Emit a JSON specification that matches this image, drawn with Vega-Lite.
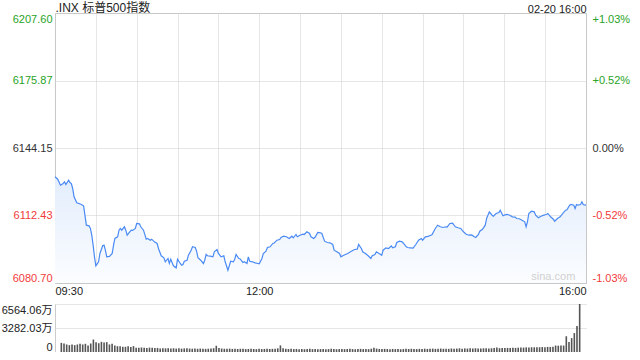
{
  "$schema": "https://vega.github.io/schema/vega-lite/v6.json",
  "background": "white",
  "padding": {"left": 1, "top": 0, "right": 0, "bottom": 0},
  "spacing": 7,
  "config": {
    "font": "Liberation Sans, Noto Sans CJK SC",
    "view": {"stroke": null},
    "axis": {"labelFont": "Liberation Sans, Noto Sans CJK SC", "labelFontSize": 11, "ticks": false, "title": null, "domain": false, "labelOverlap": false}
  },
  "datasets": {
    "price": [
      {"m":0,"p":6130.61},{"m":2,"p":6129.49},{"m":4,"p":6126.67},{"m":6,"p":6127.47},{"m":7,"p":6128.27},{"m":8,"p":6127.00},{"m":10,"p":6129.02},{"m":11,"p":6127.94},{"m":12,"p":6127.47},{"m":13,"p":6125.12},{"m":14,"p":6121.22},{"m":16,"p":6118.39},{"m":19,"p":6117.74},{"m":21,"p":6116.98},{"m":22,"p":6112.57},{"m":23,"p":6107.87},{"m":25,"p":6107.58},{"m":26,"p":6106.32},{"m":27,"p":6103.17},{"m":28,"p":6098.47},{"m":29,"p":6093.01},{"m":30,"p":6088.78},{"m":32,"p":6090.66},{"m":33,"p":6094.57},{"m":35,"p":6098.18},{"m":36,"p":6098.47},{"m":37,"p":6096.12},{"m":38,"p":6093.01},{"m":40,"p":6093.20},{"m":42,"p":6094.57},{"m":43,"p":6098.47},{"m":44,"p":6101.62},{"m":46,"p":6102.42},{"m":47,"p":6105.52},{"m":48,"p":6106.32},{"m":49,"p":6105.52},{"m":51,"p":6107.12},{"m":52,"p":6105.52},{"m":53,"p":6103.17},{"m":54,"p":6103.97},{"m":56,"p":6105.52},{"m":57,"p":6105.40},{"m":59,"p":6106.32},{"m":60,"p":6108.67},{"m":62,"p":6108.50},{"m":63,"p":6107.12},{"m":65,"p":6105.52},{"m":67,"p":6101.29},{"m":68,"p":6101.62},{"m":70,"p":6100.82},{"m":71,"p":6101.29},{"m":73,"p":6100.06},{"m":75,"p":6099.27},{"m":76,"p":6096.92},{"m":78,"p":6093.49},{"m":80,"p":6092.55},{"m":81,"p":6090.66},{"m":83,"p":6092.22},{"m":84,"p":6089.87},{"m":85,"p":6091.89},{"m":87,"p":6088.78},{"m":89,"p":6087.84},{"m":90,"p":6091.89},{"m":92,"p":6089.87},{"m":93,"p":6089.07},{"m":94,"p":6089.40},{"m":95,"p":6090.94},{"m":97,"p":6091.42},{"m":98,"p":6093.77},{"m":100,"p":6096.12},{"m":101,"p":6097.72},{"m":103,"p":6097.39},{"m":104,"p":6095.65},{"m":105,"p":6092.55},{"m":107,"p":6091.42},{"m":109,"p":6089.87},{"m":110,"p":6091.42},{"m":111,"p":6094.10},{"m":112,"p":6093.49},{"m":114,"p":6093.30},{"m":116,"p":6093.01},{"m":117,"p":6095.37},{"m":119,"p":6096.45},{"m":120,"p":6094.57},{"m":122,"p":6093.01},{"m":124,"p":6093.49},{"m":125,"p":6090.66},{"m":127,"p":6086.72},{"m":129,"p":6090.94},{"m":131,"p":6090.66},{"m":132,"p":6091.89},{"m":133,"p":6094.10},{"m":135,"p":6092.22},{"m":136,"p":6092.00},{"m":138,"p":6090.34},{"m":139,"p":6090.66},{"m":141,"p":6089.87},{"m":142,"p":6093.01},{"m":143,"p":6090.94},{"m":145,"p":6090.66},{"m":147,"p":6090.19},{"m":149,"p":6089.87},{"m":150,"p":6089.70},{"m":152,"p":6092.22},{"m":153,"p":6094.57},{"m":155,"p":6095.65},{"m":156,"p":6097.39},{"m":158,"p":6097.72},{"m":160,"p":6099.27},{"m":161,"p":6099.50},{"m":163,"p":6100.82},{"m":165,"p":6101.15},{"m":166,"p":6102.09},{"m":168,"p":6102.70},{"m":170,"p":6102.42},{"m":172,"p":6101.62},{"m":174,"p":6102.70},{"m":175,"p":6101.94},{"m":177,"p":6103.50},{"m":178,"p":6102.42},{"m":180,"p":6103.17},{"m":182,"p":6103.64},{"m":183,"p":6103.50},{"m":185,"p":6104.77},{"m":187,"p":6103.97},{"m":188,"p":6102.42},{"m":190,"p":6101.62},{"m":191,"p":6102.20},{"m":193,"p":6104.43},{"m":195,"p":6104.29},{"m":196,"p":6103.97},{"m":198,"p":6100.35},{"m":200,"p":6099.73},{"m":202,"p":6099.60},{"m":204,"p":6098.80},{"m":205,"p":6096.12},{"m":207,"p":6095.37},{"m":209,"p":6094.57},{"m":210,"p":6093.01},{"m":212,"p":6093.77},{"m":215,"p":6094.57},{"m":217,"p":6095.37},{"m":220,"p":6096.45},{"m":222,"p":6096.60},{"m":223,"p":6098.80},{"m":225,"p":6096.92},{"m":226,"p":6095.37},{"m":228,"p":6094.57},{"m":230,"p":6093.49},{"m":232,"p":6092.22},{"m":233,"p":6093.49},{"m":235,"p":6094.10},{"m":236,"p":6095.37},{"m":238,"p":6094.57},{"m":240,"p":6093.77},{"m":241,"p":6096.12},{"m":243,"p":6097.24},{"m":245,"p":6096.92},{"m":247,"p":6098.18},{"m":248,"p":6097.24},{"m":250,"p":6097.72},{"m":251,"p":6099.73},{"m":253,"p":6100.35},{"m":255,"p":6100.06},{"m":256,"p":6099.27},{"m":258,"p":6097.72},{"m":259,"p":6097.39},{"m":261,"p":6097.24},{"m":263,"p":6097.10},{"m":265,"p":6098.80},{"m":267,"p":6100.82},{"m":269,"p":6101.62},{"m":270,"p":6100.82},{"m":272,"p":6102.42},{"m":274,"p":6102.60},{"m":276,"p":6103.17},{"m":277,"p":6103.50},{"m":279,"p":6105.98},{"m":281,"p":6107.87},{"m":283,"p":6107.12},{"m":285,"p":6106.79},{"m":287,"p":6107.12},{"m":288,"p":6107.00},{"m":290,"p":6108.67},{"m":292,"p":6108.80},{"m":294,"p":6107.12},{"m":296,"p":6106.65},{"m":298,"p":6106.32},{"m":300,"p":6104.77},{"m":302,"p":6103.64},{"m":304,"p":6103.17},{"m":306,"p":6103.30},{"m":308,"p":6102.42},{"m":309,"p":6102.09},{"m":311,"p":6103.50},{"m":312,"p":6105.05},{"m":314,"p":6105.98},{"m":316,"p":6107.87},{"m":317,"p":6111.02},{"m":319,"p":6114.16},{"m":321,"p":6112.57},{"m":322,"p":6112.10},{"m":324,"p":6113.37},{"m":326,"p":6113.84},{"m":327,"p":6114.92},{"m":329,"p":6112.29},{"m":330,"p":6112.57},{"m":332,"p":6112.90},{"m":334,"p":6112.57},{"m":336,"p":6111.81},{"m":338,"p":6111.70},{"m":339,"p":6111.02},{"m":341,"p":6110.90},{"m":343,"p":6110.22},{"m":345,"p":6109.47},{"m":346,"p":6107.12},{"m":347,"p":6109.47},{"m":348,"p":6113.37},{"m":350,"p":6114.45},{"m":352,"p":6114.16},{"m":353,"p":6112.57},{"m":355,"p":6111.35},{"m":357,"p":6112.10},{"m":359,"p":6112.57},{"m":361,"p":6112.90},{"m":362,"p":6113.37},{"m":364,"p":6111.81},{"m":366,"p":6110.69},{"m":367,"p":6109.75},{"m":369,"p":6111.02},{"m":371,"p":6111.81},{"m":373,"p":6113.37},{"m":375,"p":6114.92},{"m":376,"p":6115.10},{"m":378,"p":6117.27},{"m":379,"p":6117.60},{"m":381,"p":6117.27},{"m":382,"p":6115.72},{"m":383,"p":6117.60},{"m":384,"p":6117.27},{"m":386,"p":6117.60},{"m":387,"p":6118.87},{"m":388,"p":6117.60},{"m":389,"p":6117.27},{"m":390,"p":6117.52}
    ],
    "vol": [
      {"m":1,"v":1250},{"m":3,"v":1160},{"m":5,"v":1030},{"m":7,"v":940},{"m":9,"v":1030},{"m":11,"v":940},{"m":13,"v":1030},{"m":15,"v":1120},{"m":17,"v":1030},{"m":19,"v":1120},
      {"m":21,"v":890},{"m":23,"v":1160},{"m":25,"v":1700},{"m":27,"v":1340},{"m":29,"v":1200},{"m":31,"v":1390},{"m":33,"v":1300},{"m":35,"v":1350},{"m":37,"v":1030},{"m":39,"v":1120},
      {"m":41,"v":890},{"m":43,"v":800},{"m":45,"v":800},{"m":47,"v":710},{"m":49,"v":710},{"m":51,"v":800},{"m":53,"v":670},{"m":55,"v":800},{"m":57,"v":580},{"m":59,"v":580},
      {"m":61,"v":620},{"m":63,"v":580},{"m":65,"v":560},{"m":67,"v":600},{"m":69,"v":580},{"m":71,"v":530},{"m":73,"v":560},{"m":75,"v":490},{"m":77,"v":520},{"m":79,"v":500},
      {"m":81,"v":520},{"m":83,"v":480},{"m":85,"v":510},{"m":87,"v":470},{"m":89,"v":500},{"m":91,"v":460},{"m":93,"v":490},{"m":95,"v":520},{"m":97,"v":470},{"m":99,"v":450},
      {"m":101,"v":480},{"m":103,"v":440},{"m":105,"v":470},{"m":107,"v":460},{"m":109,"v":430},{"m":111,"v":450},{"m":113,"v":480},{"m":115,"v":520},{"m":117,"v":850},{"m":119,"v":560},
      {"m":121,"v":470},{"m":123,"v":440},{"m":125,"v":430},{"m":127,"v":460},{"m":129,"v":420},{"m":131,"v":450},{"m":133,"v":410},{"m":135,"v":440},{"m":137,"v":430},{"m":139,"v":400},
      {"m":141,"v":420},{"m":143,"v":450},{"m":145,"v":410},{"m":147,"v":390},{"m":149,"v":430},{"m":151,"v":400},{"m":153,"v":420},{"m":155,"v":440},{"m":157,"v":410},{"m":159,"v":430},
      {"m":161,"v":460},{"m":163,"v":500},{"m":165,"v":900},{"m":167,"v":520},{"m":169,"v":440},{"m":171,"v":410},{"m":173,"v":430},{"m":175,"v":400},{"m":177,"v":420},{"m":179,"v":390},
      {"m":181,"v":410},{"m":183,"v":380},{"m":185,"v":400},{"m":187,"v":430},{"m":189,"v":390},{"m":191,"v":410},{"m":193,"v":380},{"m":195,"v":400},{"m":197,"v":420},{"m":199,"v":390},
      {"m":201,"v":400},{"m":203,"v":430},{"m":205,"v":410},{"m":207,"v":380},{"m":209,"v":400},{"m":211,"v":420},{"m":213,"v":390},{"m":215,"v":410},{"m":217,"v":440},{"m":219,"v":400},
      {"m":221,"v":380},{"m":223,"v":410},{"m":225,"v":430},{"m":227,"v":400},{"m":229,"v":420},{"m":231,"v":390},{"m":233,"v":450},{"m":235,"v":580},{"m":237,"v":470},{"m":239,"v":420},
      {"m":241,"v":400},{"m":243,"v":430},{"m":245,"v":410},{"m":247,"v":390},{"m":249,"v":420},{"m":251,"v":400},{"m":253,"v":410},{"m":255,"v":380},{"m":257,"v":400},{"m":259,"v":430},
      {"m":261,"v":410},{"m":263,"v":440},{"m":265,"v":420},{"m":267,"v":400},{"m":269,"v":430},{"m":271,"v":410},{"m":273,"v":450},{"m":275,"v":420},{"m":277,"v":440},{"m":279,"v":460},
      {"m":281,"v":430},{"m":283,"v":450},{"m":285,"v":470},{"m":287,"v":440},{"m":289,"v":460},{"m":291,"v":430},{"m":293,"v":480},{"m":295,"v":450},{"m":297,"v":470},{"m":299,"v":500},
      {"m":301,"v":460},{"m":303,"v":490},{"m":305,"v":470},{"m":307,"v":500},{"m":309,"v":480},{"m":311,"v":510},{"m":313,"v":490},{"m":315,"v":470},{"m":317,"v":500},{"m":319,"v":520},
      {"m":321,"v":490},{"m":323,"v":510},{"m":325,"v":540},{"m":327,"v":600},{"m":329,"v":520},{"m":331,"v":550},{"m":333,"v":530},{"m":335,"v":560},{"m":337,"v":540},{"m":339,"v":570},
      {"m":341,"v":560},{"m":343,"v":590},{"m":345,"v":620},{"m":347,"v":600},{"m":349,"v":640},{"m":351,"v":620},{"m":353,"v":650},{"m":355,"v":640},{"m":357,"v":660},{"m":359,"v":650},
      {"m":361,"v":680},{"m":363,"v":660},{"m":365,"v":700},{"m":367,"v":690},{"m":369,"v":720},{"m":371,"v":880},{"m":373,"v":860},{"m":375,"v":900},{"m":377,"v":880},{"m":379,"v":2150},
      {"m":381,"v":1380},{"m":383,"v":1900},{"m":385,"v":2590},{"m":387,"v":3570},{"m":389,"v":6564.06}
    ]
  },
  "vconcat": [
    {
      "width": 531,
      "height": 270,
      "view": {"stroke": "#c4c4c4"},
      "data": {"name": "price"},
      "resolve": {"axis": {"x": "independent", "y": "independent"}},
      "layer": [
        {
          "mark": {"type": "area", "color": {"gradient": "linear", "x1": 0, "y1": 0, "x2": 0, "y2": 1, "stops": [{"offset": 0, "color": "#e3edfc"}, {"offset": 1, "color": "#fbfdff"}]}},
          "encoding": {
            "x": {"field": "m", "type": "quantitative", "scale": {"domain": [0, 390], "nice": false, "zero": false},
              "axis": {"orient": "bottom", "values": [0,30,60,90,120,150,180,210,240,270,300,330,360,390], "grid": true, "gridColor": "#cccccc", "gridDash": [1,1], "labelFlush": true, "labelPadding": 2, "labelColor": "#222222",
                "labelExpr": "datum.value == 0 ? '09:30' : datum.value == 150 ? '12:00' : datum.value == 390 ? '16:00' : ''"}},
            "y": {"field": "p", "type": "quantitative", "scale": {"domain": [6080.70, 6207.60], "nice": false, "zero": false},
              "axis": {"orient": "left", "values": [6080.70, 6112.43, 6144.15, 6175.87, 6207.60], "format": ".2f", "grid": true, "gridColor": "#cccccc", "gridDash": [1,1], "labelFlush": true, "labelPadding": 3,
                "labelColor": {"condition": [{"test": "datum.value > 6144.2", "value": "#27a327"}, {"test": "datum.value < 6144.1", "value": "#f23a3a"}], "value": "#333333"}}},
            "y2": {"datum": 6080.70}
          }
        },
        {
          "mark": {"type": "line", "color": "#4a8af4", "strokeWidth": 1.2},
          "encoding": {
            "x": {"field": "m", "type": "quantitative",
              "axis": {"orient": "top", "values": [0, 390], "grid": false, "labelFlush": true, "labelPadding": -1, "labelColor": "#222222",
                "labelFontSize": {"condition": {"test": "datum.value == 0", "value": 12}, "value": 11},
                "labelExpr": "datum.value == 0 ? '.INX 标普500指数' : '02-20 16:00'"}},
            "y": {"field": "p", "type": "quantitative",
              "axis": {"orient": "right", "values": [6080.70, 6112.43, 6144.15, 6175.87, 6207.60], "grid": false, "labelFlush": true, "labelPadding": 6,
                "labelColor": {"condition": [{"test": "datum.value > 6144.2", "value": "#27a327"}, {"test": "datum.value < 6144.1", "value": "#f23a3a"}], "value": "#333333"},
                "labelExpr": "(datum.value > 6144.2 ? '+' : datum.value < 6144.1 ? '-' : '') + format(abs(datum.value / 6144.15 - 1) * 100, '.2f') + '%'"}}
          }
        },
        {
          "data": {"values": [{}]},
          "mark": {"type": "text", "text": "sina.com", "color": "#d0d0d0", "fontSize": 11, "align": "center", "baseline": "middle"},
          "encoding": {
            "x": {"datum": 366, "type": "quantitative", "axis": null},
            "y": {"datum": 6083.3, "type": "quantitative", "axis": null}
          }
        }
      ]
    },
    {
      "width": 531,
      "height": 48,
      "data": {"name": "vol"},
      "mark": {"type": "bar", "size": 1.6, "color": "#555555"},
      "encoding": {
        "x": {"field": "m", "type": "quantitative", "scale": {"domain": [0, 390], "nice": false, "zero": false}, "axis": null},
        "y": {"field": "v", "type": "quantitative", "scale": {"domain": [0, 6564.06], "nice": false},
          "axis": {"values": [0, 3282.03, 6564.06], "grid": true, "gridDash": [1,1], "gridColor": {"condition": {"test": "datum.value == 0", "value": "transparent"}, "value": "#cccccc"}, "domain": true, "domainColor": "#cccccc", "labelFlush": true, "labelPadding": 3, "labelColor": "#222222",
            "labelExpr": "datum.value == 0 ? '0' : format(datum.value, '.2f') + '万'"}}
      }
    }
  ]
}
